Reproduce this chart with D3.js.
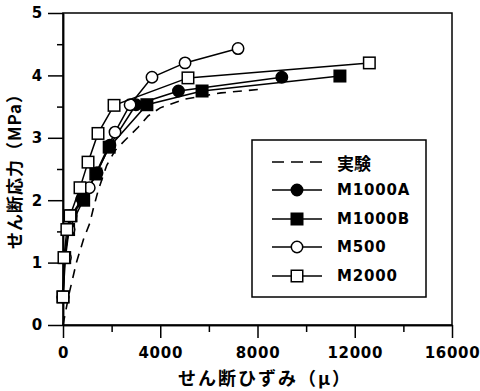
<!DOCTYPE html>
<html><head><meta charset="utf-8">
<script src="https://cdn.jsdelivr.net/npm/d3@7"></script>
<style>
html,body{margin:0;padding:0;background:#fff;}
svg{display:block;}
</style></head>
<body>
<svg id="chart" width="480" height="391"></svg>
<script>
// ---- data ----
const xTicks = [0, 4000, 8000, 12000, 16000];
const xMinorTicks = [2000, 6000, 10000, 14000];
const yTicks = [0, 1, 2, 3, 4, 5];
const yMinorTicks = [0.5, 1.5, 2.5, 3.5, 4.5];

const expStrain = [0, 250, 550, 850, 1100, 1250, 1450, 1800, 2150, 2550, 3090, 3500, 4000, 5000, 6500, 8200];
const expStress = [0, 0.5, 1.0, 1.38, 1.63, 1.87, 2.16, 2.56, 2.8, 2.96, 3.17, 3.35, 3.48, 3.62, 3.72, 3.78];

const m1000aStrain = [0, 70, 230, 330, 780, 1400, 1930, 3000, 4750, 9000];
const m1000aStress = [0.45, 1.08, 1.53, 1.75, 2.02, 2.44, 2.88, 3.53, 3.75, 3.97];

const m1000bStrain = [0, 70, 230, 330, 850, 1350, 1900, 3450, 5720, 11390];
const m1000bStress = [0.45, 1.08, 1.53, 1.75, 2.0, 2.42, 2.85, 3.53, 3.75, 3.99];

const m500Strain = [0, 100, 250, 1080, 2140, 2760, 3660, 5020, 7200];
const m500Stress = [0.45, 1.08, 1.53, 2.2, 3.09, 3.53, 3.97, 4.2, 4.43];

const m2000Strain = [0, 40, 160, 290, 700, 1030, 1440, 2100, 5140, 12600];
const m2000Stress = [0.45, 1.08, 1.53, 1.75, 2.2, 2.61, 3.07, 3.52, 3.96, 4.2];

const legendLabels = ["実験", "M1000A", "M1000B", "M500", "M2000"];

// ---- layout ----
const svg = d3.select("#chart");
const x = d3.scaleLinear().domain([0, 16000]).range([63, 452]);
const y = d3.scaleLinear().domain([0, 5]).range([325, 13]);
const numFont = "'DejaVu Sans', sans-serif";
const jpFont = "'Noto Sans CJK JP', sans-serif";

// frame
svg.append("rect").attr("x", x(0)).attr("y", y(5))
  .attr("width", x(16000) - x(0)).attr("height", y(0) - y(5))
  .attr("fill", "none").attr("stroke", "#000").attr("stroke-width", 1.5);

// axes
const gx = svg.append("g").attr("transform", `translate(0,${y(0)})`)
  .call(d3.axisBottom(x).tickValues(xTicks).tickSize(13).tickSizeOuter(0).tickPadding(9).tickFormat(d3.format("d")));
const gxm = svg.append("g").attr("transform", `translate(0,${y(0)})`)
  .call(d3.axisBottom(x).tickValues(xMinorTicks).tickSize(7).tickSizeOuter(0).tickFormat(""));
const gy = svg.append("g").attr("transform", `translate(${x(0)},0)`)
  .call(d3.axisLeft(y).tickValues(yTicks).tickSize(15).tickSizeOuter(0).tickPadding(5).tickFormat(d3.format("d")));
const gym = svg.append("g").attr("transform", `translate(${x(0)},0)`)
  .call(d3.axisLeft(y).tickValues(yMinorTicks).tickSize(6).tickSizeOuter(0).tickFormat(""));
[gx, gxm, gy, gym].forEach(g => {
  g.selectAll("path.domain").attr("stroke", "#000").attr("stroke-width", 1.5);
  g.selectAll(".tick line").attr("stroke", "#000").attr("stroke-width", 1.5);
  g.selectAll(".tick text").attr("fill", "#000").attr("font-family", numFont)
    .attr("font-weight", "bold").attr("font-size", 15).attr("letter-spacing", 0.7);
});

// axis titles
svg.append("text").attr("x", 265).attr("y", 380).attr("text-anchor", "middle")
  .attr("dominant-baseline", "middle").attr("font-family", jpFont).attr("font-weight", "bold")
  .attr("font-size", 18).attr("letter-spacing", 2).text("せん断ひずみ（μ）");
svg.append("text").attr("transform", "translate(16,167) rotate(-90)").attr("text-anchor", "middle")
  .attr("dominant-baseline", "middle").attr("font-family", jpFont).attr("font-weight", "bold")
  .attr("font-size", 17).attr("letter-spacing", 1).text("せん断応力（MPa）");

// series
const zip = (xs, ys) => xs.map((v, i) => [v, ys[i]]);
const line = d3.line().x(d => x(d[0])).y(d => y(d[1]));
const plot = svg.append("g");

function drawMarker(g, type, cx, cy) {
  if (type === "circleF" || type === "circleO") {
    g.append("circle").attr("cx", cx).attr("cy", cy).attr("r", 5.7)
      .attr("fill", type === "circleF" ? "#000" : "#fff").attr("stroke", "#000").attr("stroke-width", 1.5);
  } else {
    const s = 11.5;
    g.append("rect").attr("x", cx - s / 2).attr("y", cy - s / 2).attr("width", s).attr("height", s)
      .attr("fill", type === "squareF" ? "#000" : "#fff").attr("stroke", "#000").attr("stroke-width", 1.5);
  }
}

// experimental dashed
plot.append("path").datum(zip(expStrain, expStress)).attr("d", line)
  .attr("fill", "none").attr("stroke", "#000").attr("stroke-width", 1.6).attr("stroke-dasharray", "9,7");

const series = [
  { data: zip(m1000aStrain, m1000aStress), type: "circleF" },
  { data: zip(m1000bStrain, m1000bStress), type: "squareF" },
  { data: zip(m500Strain, m500Stress), type: "circleO" },
  { data: zip(m2000Strain, m2000Stress), type: "squareO" }
];
series.forEach(s => {
  const g = plot.append("g");
  g.append("path").datum(s.data).attr("d", line).attr("fill", "none")
    .attr("stroke", "#000").attr("stroke-width", 1.5);
  s.data.forEach(d => drawMarker(g, s.type, x(d[0]), y(d[1])));
});

// legend
const lg = svg.append("g");
lg.append("rect").attr("x", 252).attr("y", 140).attr("width", 174).attr("height", 157)
  .attr("fill", "#fff").attr("stroke", "#000").attr("stroke-width", 1.5);
const rowY = [162, 190, 219, 247, 276];
const types = [null, "circleF", "squareF", "circleO", "squareO"];
legendLabels.forEach((lab, i) => {
  const yy = rowY[i];
  lg.append("line").attr("x1", 272).attr("x2", 322).attr("y1", yy).attr("y2", yy)
    .attr("stroke", "#000").attr("stroke-width", 1.5)
    .attr("stroke-dasharray", i === 0 ? "12,7" : null);
  if (types[i]) drawMarker(lg, types[i], 297, yy);
  lg.append("text").attr("x", 337).attr("y", yy).attr("dominant-baseline", "central")
    .attr("font-family", i === 0 ? jpFont : numFont).attr("font-weight", "bold")
    .attr("font-size", i === 0 ? 17 : 15).attr("letter-spacing", i === 0 ? 0 : 0.8).text(lab);
});
</script>
</body></html>
